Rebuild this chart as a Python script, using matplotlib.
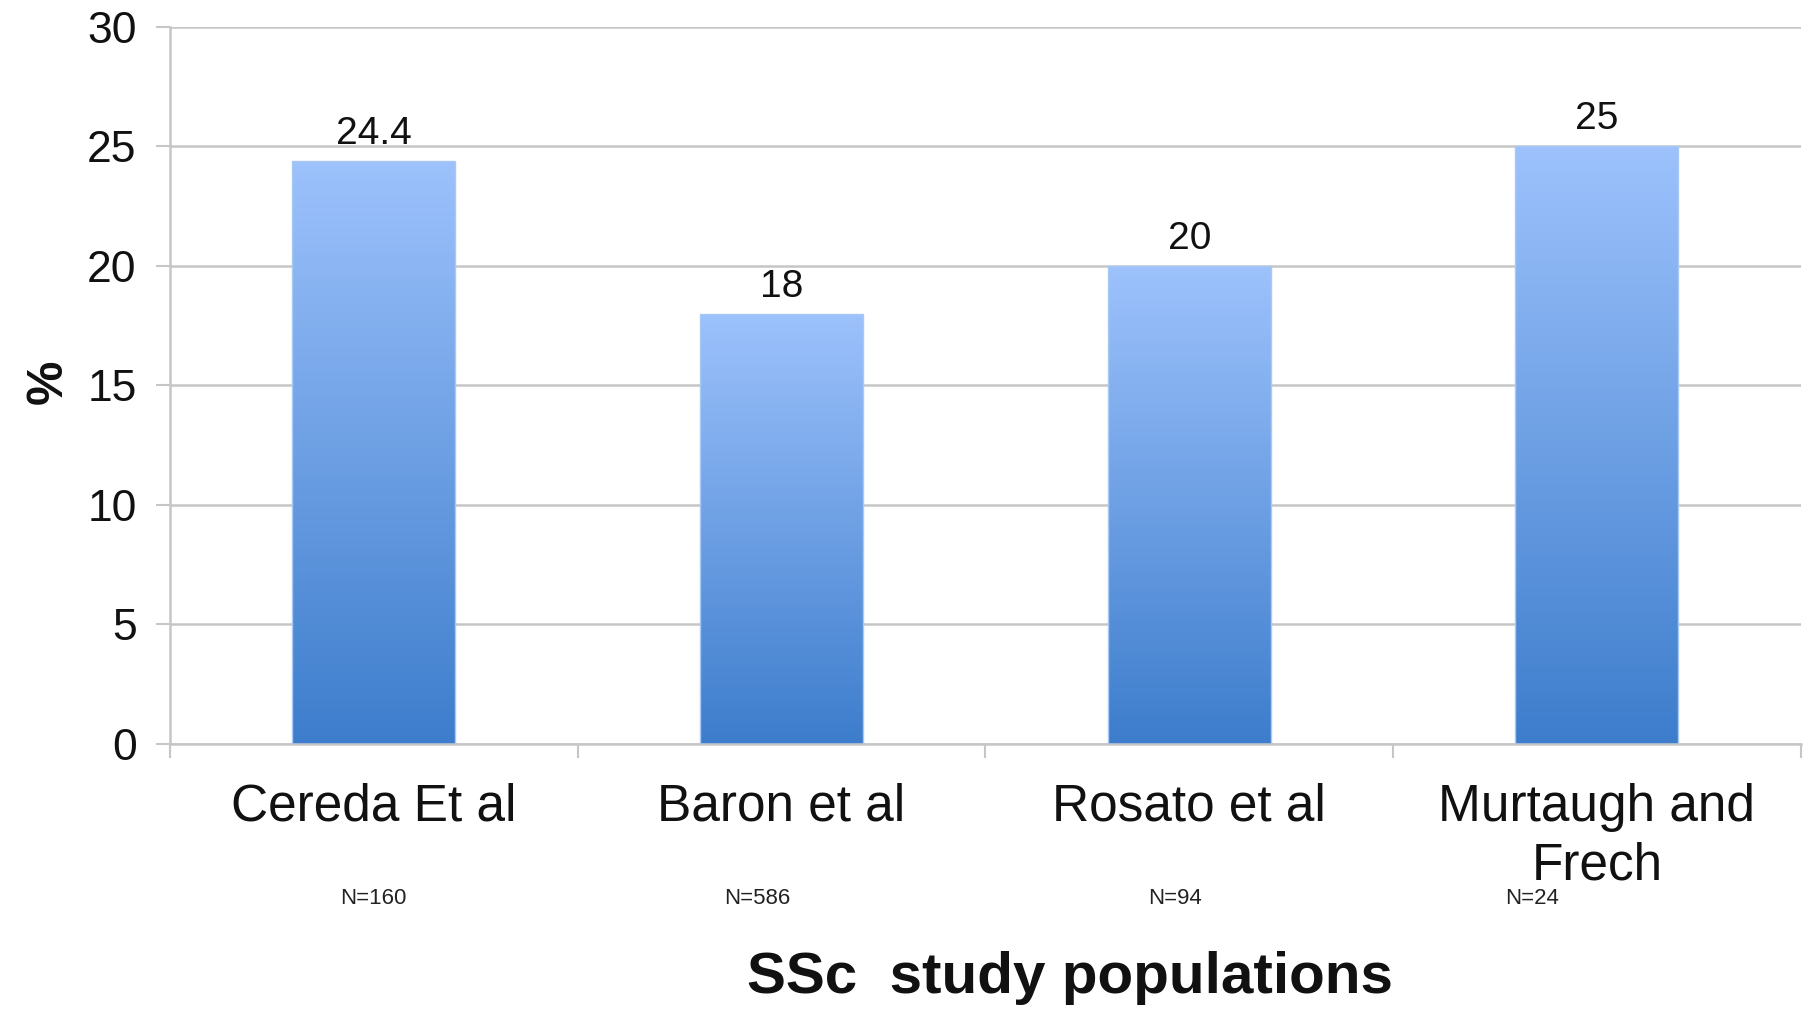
import numpy as np
import matplotlib.pyplot as plt
from matplotlib.colors import to_rgb

plt.rcParams['font.family'] = ['Liberation Sans', 'DejaVu Sans']

# Datos
estudios = ["Cereda Et al", "Baron et al", "Rosato et al", "Murtaugh and\nFrech"]
porcentajes = [24.4, 18, 20, 25]
etiquetas_valor = ["24.4", "18", "20", "25"]
etiquetas_n = ["N=160", "N=586", "N=94", "N=24"]
# desplazamiento horizontal de las etiquetas N (en unidades de categoría)
desplaz_n = [0.0, -0.06, -0.035, -0.16]

color_arriba = to_rgb("#9dc2fc")
color_abajo = to_rgb("#3d7dcc")
gris = "#c6c6c6"

fig = plt.figure(figsize=(18.08, 10.10), dpi=100)
ax = fig.add_axes([0.094, 0.2634, 0.902, 0.7099])

x = np.arange(len(estudios))
ancho = 0.40
barras = ax.bar(x, porcentajes, width=ancho, color="none", edgecolor="#a9c9f5",
                linewidth=1.0, zorder=3)

# relleno en degradado (claro arriba, oscuro abajo) recortado a cada barra
t = np.linspace(0, 1, 256)[:, None]
grad = (1 - t) * np.array(color_arriba) + t * np.array(color_abajo)
grad = grad[:, None, :]
for b in barras:
    x0 = b.get_x()
    h = b.get_height()
    im = ax.imshow(grad, extent=[x0, x0 + b.get_width(), 0, h], aspect="auto",
                   origin="upper", zorder=2, interpolation="bilinear")
    im.set_clip_path(b)

for xi, v, txt in zip(x, porcentajes, etiquetas_valor):
    ax.annotate(txt, (xi, v), xytext=(0, 6.5), textcoords="offset points",
                ha="center", va="bottom", fontsize=28, color="#111111")

ax.set_xlim(-0.5, len(estudios) - 0.5)
ax.set_ylim(0, 30)
ax.set_yticks(np.arange(0, 31, 5))
ax.tick_params(axis="y", labelsize=32, length=10, width=1.5, color=gris, pad=14,
               labelcolor="#111111")
ax.set_xticks(x)
ax.set_xticklabels(estudios, fontsize=37, color="#111111", linespacing=1.25)
ax.set_xticks(np.arange(-0.5, len(estudios), 1), minor=True)
ax.tick_params(axis="x", which="major", length=0, pad=28)
ax.tick_params(axis="x", which="minor", length=10, width=1.5, color=gris)

ax.grid(axis="y", color=gris, linewidth=1.8, zorder=0)
ax.set_axisbelow(True)
for lado in ["top", "right"]:
    ax.spines[lado].set_visible(False)
for lado in ["left", "bottom"]:
    ax.spines[lado].set_color(gris)
    ax.spines[lado].set_linewidth(1.8)

for xi, dx, txt in zip(x, desplaz_n, etiquetas_n):
    ax.annotate(txt, (xi + dx, 0), xycoords=("data", "axes fraction"),
                xytext=(0, -111), textcoords="offset points",
                ha="center", va="center", fontsize=16, color="#222222")

fig.text(0.592, 0.032, "SSc  study populations", ha="center", va="center",
         fontsize=42, fontweight="bold", color="#111111")
fig.text(0.027, 0.622, "%", ha="center", va="center", rotation=90,
         fontsize=36, fontweight="bold", color="#111111")

fig.savefig("out.png", dpi=100)
